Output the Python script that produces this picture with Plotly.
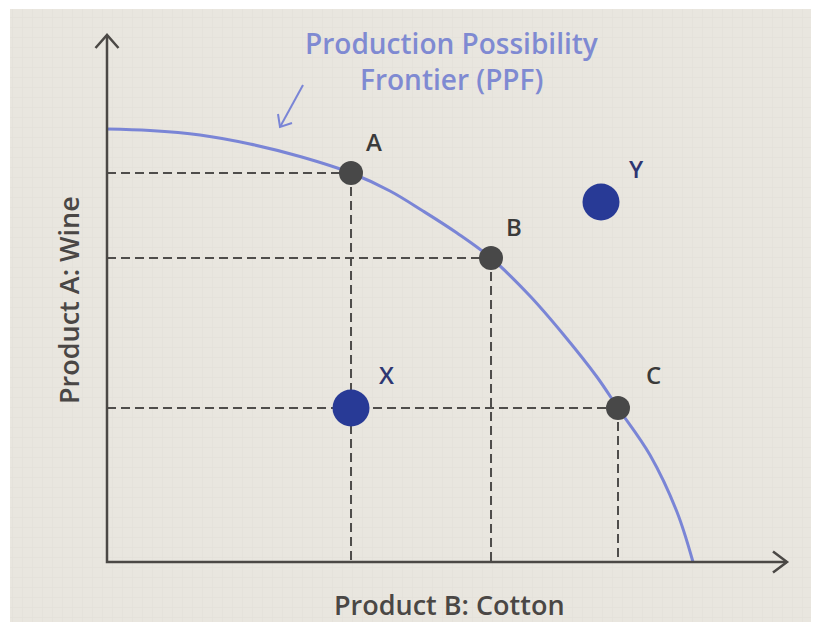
import plotly.graph_objects as go

# ---------------- data ----------------
ppf_cotton = [0.0, 4.3, 9.3, 14.3, 19.3, 24.4, 28.3, 31.6, 35.0, 38.4, 42.3, 45.6, 49.0, 51.1, 54.3, 57.0, 58.6]
ppf_wine = [43.3, 43.15, 42.7, 41.8, 40.55, 38.9, 37.1, 35.1, 32.9, 30.4, 26.6, 22.8, 18.5, 15.4, 10.7, 5.0, 0.0]

frontier_names = ["A", "B", "C"]
frontier_cotton = [24.4, 38.4, 51.1]
frontier_wine = [38.9, 30.4, 15.4]

other_names = ["X", "Y"]
other_cotton = [24.4, 49.4]
other_wine = [15.4, 36.0]

axis_x_end = 68.0
axis_y_end = 52.7

title_lines = ["Production Possibility", "Frontier (PPF)"]
x_title = "Product B: Cotton"
y_title = "Product A: Wine"

# pointer arrow for the PPF caption (tail -> tip, plus head arms)
pointer_cotton = [19.6, 17.3]
pointer_wine = [47.7, 43.5]
pointer_head_cotton = [17.1, 17.3, 18.5]
pointer_head_wine = [44.8, 43.5, 43.9]

# ---------------- styles ----------------
BG = "#E9E6DF"
AXIS = "#4B4845"
DASH = "#4F4D4B"
PPF = "#7A85D6"
CAPTION = "#7F8AD2"
GRAY_DOT = "#484848"
BLUE_DOT = "#283A96"
FONT = "Open Sans"

fig = go.Figure()

# dashed guide lines
for x, y in zip(frontier_cotton, frontier_wine):
    fig.add_trace(go.Scatter(x=[0, x], y=[y, y], mode="lines",
                             line=dict(color=DASH, width=2, dash="9px,5px"), hoverinfo="skip"))
    fig.add_trace(go.Scatter(x=[x, x], y=[y, 0], mode="lines",
                             line=dict(color=DASH, width=2, dash="9px,5px"), hoverinfo="skip"))

# PPF curve
fig.add_trace(go.Scatter(x=ppf_cotton, y=ppf_wine, mode="lines",
                         line=dict(color=PPF, width=3, shape="spline", smoothing=1.0),
                         hoverinfo="skip"))

# axes with open chevrons
fig.add_trace(go.Scatter(x=[0, 0, axis_x_end], y=[axis_y_end, 0, 0], mode="lines",
                         line=dict(color=AXIS, width=2.5), hoverinfo="skip"))
fig.add_trace(go.Scatter(x=[-1.15, 0, 1.15], y=[axis_y_end - 1.3, axis_y_end, axis_y_end - 1.3],
                         mode="lines", line=dict(color=AXIS, width=2.5), hoverinfo="skip"))
fig.add_trace(go.Scatter(x=[axis_x_end - 1.4, axis_x_end, axis_x_end - 1.4], y=[1.05, 0, -1.05],
                         mode="lines", line=dict(color=AXIS, width=2.5), hoverinfo="skip"))

# caption pointer
fig.add_trace(go.Scatter(x=pointer_cotton, y=pointer_wine, mode="lines",
                         line=dict(color=PPF, width=2), hoverinfo="skip"))
fig.add_trace(go.Scatter(x=pointer_head_cotton, y=pointer_head_wine, mode="lines",
                         line=dict(color=PPF, width=2), hoverinfo="skip"))

# points
fig.add_trace(go.Scatter(x=frontier_cotton, y=frontier_wine, mode="markers",
                         marker=dict(color=GRAY_DOT, size=24, line=dict(width=0))))
fig.add_trace(go.Scatter(x=other_cotton, y=other_wine, mode="markers",
                         marker=dict(color=BLUE_DOT, size=37, line=dict(width=0))))

annotations = []
for name, x, y, (dx, dy) in zip(frontier_names, frontier_cotton, frontier_wine,
                                [(23, 32), (23, 32), (35, 34)]):
    annotations.append(dict(x=x, y=y, text=name, showarrow=False, xshift=dx, yshift=dy,
                            xanchor="center", yanchor="middle",
                            font=dict(family=FONT, size=24, color="#3A3A3A", weight=600)))
for name, x, y in zip(other_names, other_cotton, other_wine):
    annotations.append(dict(x=x, y=y, text=name, showarrow=False, xshift=35, yshift=34,
                            xanchor="center", yanchor="middle",
                            font=dict(family=FONT, size=24, color="#2E3672", weight=600)))

def paper_text(px, py, text, size, color, angle=0):
    return dict(xref="paper", yref="paper", x=(px - 10) / 801, y=(622 - py) / 613,
                text=text, showarrow=False, xanchor="center", yanchor="middle",
                textangle=angle, font=dict(family=FONT, size=size, color=color, weight=600))

annotations.append(paper_text(451, 43, title_lines[0], 28, CAPTION))
annotations.append(paper_text(451, 79, title_lines[1], 28, CAPTION))
annotations.append(paper_text(449, 604, x_title, 27, "#4A4745"))
annotations.append(paper_text(68, 300, y_title, 27, "#4A4745", angle=-90))

fig.update_layout(
    width=820, height=629,
    margin=dict(l=10, r=9, t=9, b=7),
    paper_bgcolor="#FFFFFF",
    plot_bgcolor=BG,
    showlegend=False,
    annotations=annotations,
    xaxis=dict(range=[-9.7, 70.4], showticklabels=False, zeroline=False,
               showgrid=True, gridcolor="#E5E2DB", gridwidth=1, dtick=1, tick0=0.5,
               fixedrange=True),
    yaxis=dict(range=[-6.0, 55.3], showticklabels=False, zeroline=False,
               showgrid=True, gridcolor="#E5E2DB", gridwidth=1, dtick=1, tick0=0.5,
               fixedrange=True),
)

fig.write_html("out.html", config={"displayModeBar": False},
               post_script="document.body.style.margin='0';document.body.style.padding='0';"
                           "document.body.style.overflow='hidden';")
